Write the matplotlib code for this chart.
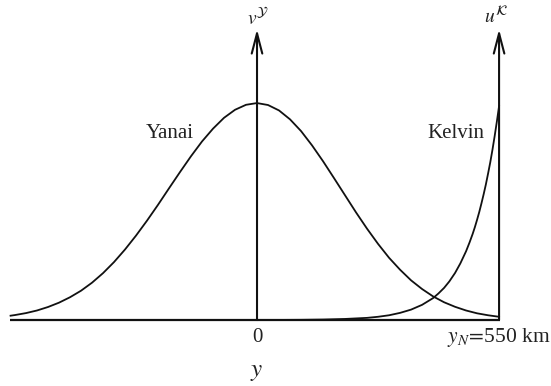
import matplotlib
matplotlib.use("Agg")
import matplotlib.pyplot as plt  # noqa: E402

plt.rcParams["mathtext.fontset"] = "stix"
plt.rcParams["font.family"] = ["Liberation Serif", "DejaVu Serif"]

# meridional distance (km) and normalised amplitudes
yanai_y = [-560, -550, -525, -500, -475, -450, -425, -400, -375, -350, -325,
           -300, -275, -250, -225, -200, -175, -150, -125, -100, -75, -50,
           -25, 0, 25, 50, 75, 100, 125, 150, 175, 200, 225, 250, 275, 300,
           325, 350, 375, 400, 425, 450, 475, 500, 525, 550]
yanai_v = [0.020, 0.023, 0.032, 0.044, 0.060, 0.080, 0.105, 0.135, 0.172,
           0.216, 0.267, 0.325, 0.389, 0.458, 0.531, 0.607, 0.682, 0.755,
           0.823, 0.882, 0.932, 0.969, 0.992, 1.000, 0.991, 0.966, 0.925,
           0.871, 0.805, 0.732, 0.654, 0.575, 0.496, 0.421, 0.351, 0.287,
           0.232, 0.183, 0.143, 0.109, 0.082, 0.061, 0.044, 0.031, 0.022,
           0.015]

kelvin_y = [0, 50, 100, 150, 200, 250, 275, 300, 325, 350, 375, 400, 412,
            425, 437, 450, 462, 475, 483, 490, 495, 500, 505, 510, 515, 520,
            525, 530, 535, 540, 545, 550]
kelvin_u = [0.0002, 0.0005, 0.001, 0.0023, 0.005, 0.010, 0.015, 0.022,
            0.033, 0.048, 0.070, 0.101, 0.122, 0.148, 0.178, 0.217, 0.261,
            0.317, 0.358, 0.397, 0.428, 0.462, 0.498, 0.538, 0.580, 0.625,
            0.675, 0.727, 0.785, 0.848, 0.915, 0.986]

y_north = 550
x_left = -561
arrow_top = 1.34

fig = plt.figure(figsize=(5.51, 3.86), dpi=100)
ax = fig.add_axes([0, 0, 1, 1])
ax.set_xlim(-584, 668)
ax.set_ylim(-0.304, 1.475)
ax.axis("off")

ink = "#111111"
ax.plot([x_left, y_north + 2], [0, 0], color=ink, lw=1.6, solid_capstyle="butt")
ax.plot(yanai_y, yanai_v, color=ink, lw=1.3)
ax.plot(kelvin_y, kelvin_u, color=ink, lw=1.3)

arrow = dict(arrowstyle="->,head_length=1.45,head_width=0.38", lw=1.5,
             color=ink, shrinkA=0, shrinkB=0, mutation_scale=10)
for xa in (0, y_north):
    ax.annotate("", xy=(xa, arrow_top), xytext=(xa, 0), arrowprops=arrow)

txt = "#222222"
ax.text(2, 1.365, r"$v^{\mathcal{Y}}$", ha="center", va="baseline", fontsize=14, color=txt)
ax.text(y_north - 8, 1.365, r"$u^{\mathcal{K}}$", ha="center", va="baseline", fontsize=14, color=txt)
ax.text(-199, 0.86, "Yanai", ha="center", va="center", fontsize=15, color=txt)
ax.text(452, 0.86, "Kelvin", ha="center", va="center", fontsize=15, color=txt)
ax.text(0, -0.08, "0", ha="center", va="center", fontsize=15, color=txt)
ax.text(432, -0.08, r"$y_N\!=\!$550 km", ha="left", va="center", fontsize=15.5, color=txt)
ax.text(0, -0.24, r"$y$", ha="center", va="center", fontsize=18, color=txt)

fig.savefig("out.png", dpi=100)
